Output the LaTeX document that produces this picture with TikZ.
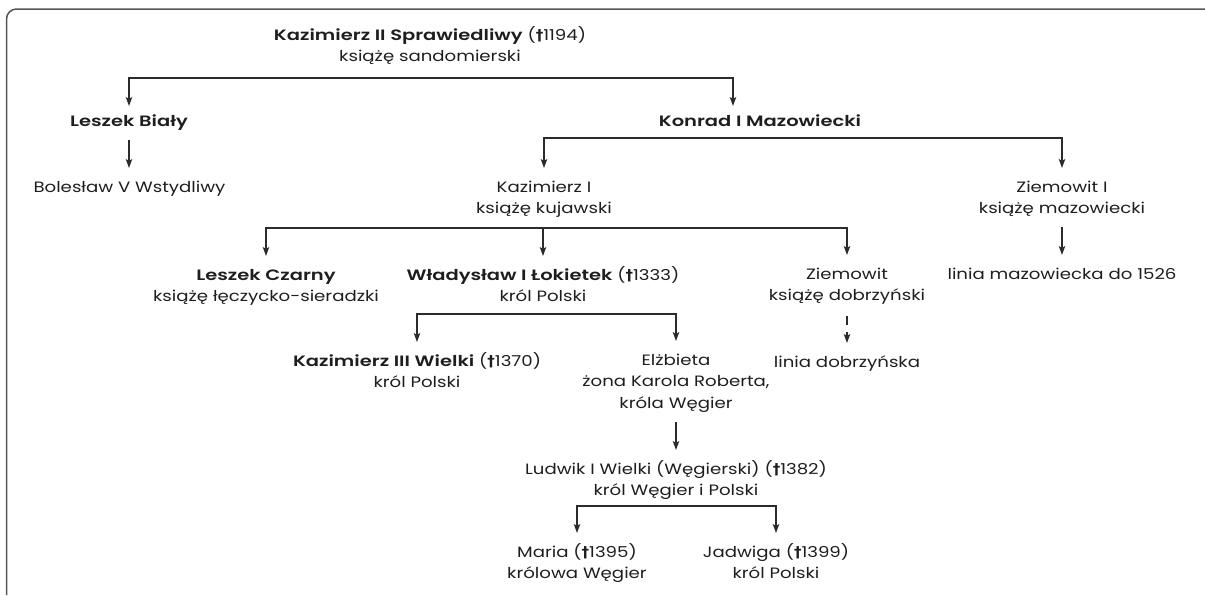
\documentclass[tikz,border=0pt]{standalone}
\usepackage{fontspec}
\setmainfont{Poppins}[Numbers=Monospaced, UprightFeatures={FakeStretch=1.21}, BoldFont={Poppins SemiBold}, BoldFeatures={FakeStretch=1.3}]
\newfontfamily\dgfont{DejaVu Sans}
\usetikzlibrary{arrows.meta}
\newcommand{\dg}{{\dgfont\bfseries †}}
\newcommand{\fst}{\rule{0pt}{14pt}}
\definecolor{txt}{HTML}{1E1E1E}
\definecolor{lin}{HTML}{2B2B2B}
\definecolor{frm}{HTML}{555555}
\begin{document}
\begin{tikzpicture}[x=1pt,y=-1pt,
  person/.style={inner sep=0pt, outer sep=10pt, align=center, anchor=north,
    font=\fontsize{15}{21.5}\selectfont, text=txt},
  conn/.style={draw=lin, line width=1.2pt},
  arr/.style={conn, -{Stealth[length=9pt,width=6.5pt,inset=2pt]}},
]
\useasboundingbox (0,0) rectangle (1205,595);
\draw[frm, line width=1.5pt, rounded corners=10pt] (6.5,595) -- (6.5,9) -- (1205,9);

\node[person] (k2) at (430,16) {\fst\textbf{Kazimierz II Sprawiedliwy} (\dg1194)\\książę sandomierski};
\node[person] (lb) at (129,102) {\fst\textbf{Leszek Biały}};
\node[person] (bol) at (129.5,168) {\fst Bolesław V Wstydliwy};
\node[person] (kon) at (760,102) {\fst\textbf{Konrad I Mazowiecki}};
\node[person] (k1) at (544,168) {\fst Kazimierz I\\książę kujawski};
\node[person] (z1) at (1062,168) {\fst Ziemowit I\\książę mazowiecki};
\node[person] (lmaz) at (1062,255) {\fst linia mazowiecka do 1526};
\node[person] (lc) at (266,256) {\fst\textbf{Leszek Czarny}\\książę łęczycko-sieradzki};
\node[person] (wl) at (543,256) {\fst\textbf{Władysław I Łokietek} (\dg1333)\\król Polski};
\node[person] (zd) at (847,255) {\fst Ziemowit\\książę dobrzyński};
\node[person] (ldob) at (847,343) {\fst linia dobrzyńska};
\node[person] (k3) at (417,342) {\fst\textbf{Kazimierz III Wielki} (\dg1370)\\król Polski};
\node[person] (el) at (676,341) {\fst Elżbieta\\żona Karola Roberta,\\króla Węgier};
\node[person] (lu) at (676,450) {\fst Ludwik I Wielki (Węgierski) (\dg1382)\\król Węgier i Polski};
\node[person] (ma) at (577,533) {\fst Maria (\dg1395)\\królowa Węgier};
\node[person] (ja) at (776,533) {\fst Jadwiga (\dg1399)\\król Polski};

\coordinate (b1) at (0,78);
\coordinate (b2) at (0,138);
\coordinate (b3) at (0,228);
\coordinate (b4) at (0,314);
\coordinate (b5) at (0,506);
\coordinate (konin) at ([xshift=-27pt]kon.north);

\draw[arr, shorten >=-4pt] (konin |- b1) -- (lb.north |- b1) -- (lb.north);
\draw[arr, shorten >=-4pt] (lb.north |- b1) -- (konin |- b1) -- (konin);
\draw[arr] (lb.south) -- (lb.south |- bol.north);
\draw[arr] (z1.north |- b2) -- (k1.north |- b2) -- (k1.north);
\draw[arr] (k1.north |- b2) -- (z1.north |- b2) -- (z1.north);
\draw[arr] (z1.south) -- (lmaz.north);
\draw[arr] (zd.north |- b3) -- (lc.north |- b3) -- (lc.north);
\draw[arr] (wl.north |- b3) -- (wl.north);
\draw[arr] (lc.north |- b3) -- (zd.north |- b3) -- (zd.north);
\draw[arr, dash pattern=on 9pt off 7pt, shorten <=2pt] (zd.south) -- (ldob.north);
\draw[arr] (el.north |- b4) -- (k3.north |- b4) -- (k3.north);
\draw[arr] (k3.north |- b4) -- (el.north |- b4) -- (el.north);
\draw[arr] (el.south) -- (lu.north);
\draw[arr] (ja.north |- b5) -- (ma.north |- b5) -- (ma.north);
\draw[arr] (ma.north |- b5) -- (ja.north |- b5) -- (ja.north);
\end{tikzpicture}
\end{document}
